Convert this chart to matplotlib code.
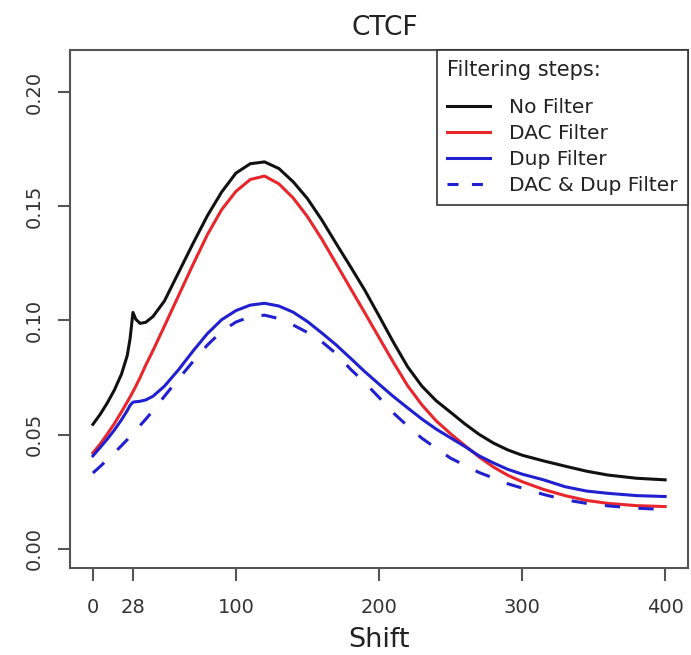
import numpy as np
import matplotlib
matplotlib.use('Agg')
import matplotlib.pyplot as plt
from matplotlib.lines import Line2D

# shift values where the curves were read
shift = [0, 5, 10, 15, 20, 24, 26, 28, 30, 33, 37, 42, 50, 60, 70, 80, 90, 100,
         110, 120, 130, 140, 150, 160, 170, 180, 190, 200, 210, 220, 230, 240,
         250, 260, 270, 280, 290, 300, 315, 330, 345, 360, 380, 400]

no_filter = [0.0545, 0.0588, 0.0638, 0.0695, 0.0765, 0.0846, 0.092, 0.1035,
             0.1005, 0.0987, 0.0992, 0.1017, 0.1085, 0.1211, 0.1337, 0.1458,
             0.1562, 0.1645, 0.1686, 0.1694, 0.1665, 0.1607, 0.1533, 0.144,
             0.1337, 0.1236, 0.1133, 0.102, 0.0905, 0.0797, 0.0712, 0.0648,
             0.0598, 0.0547, 0.0501, 0.0463, 0.0433, 0.041, 0.0385, 0.0362,
             0.034, 0.0323, 0.0309, 0.0302]

dac_filter = [0.042, 0.0458, 0.0502, 0.0548, 0.060, 0.0643, 0.0665, 0.0688,
              0.0712, 0.075, 0.0805, 0.0868, 0.0975, 0.111, 0.1245, 0.1375,
              0.1485, 0.1565, 0.1617, 0.1632, 0.1598, 0.1536, 0.1454, 0.1356,
              0.1249, 0.1141, 0.1034, 0.0925, 0.0817, 0.0714, 0.063, 0.056,
              0.0504, 0.0452, 0.0402, 0.0358, 0.0322, 0.0294, 0.026, 0.0233,
              0.0212, 0.0199, 0.0189, 0.0185]

dup_filter = [0.0407, 0.0443, 0.048, 0.052, 0.0565, 0.0605, 0.0628, 0.0642,
              0.0644, 0.0646, 0.0652, 0.0668, 0.0712, 0.0785, 0.0866, 0.0942,
              0.1003, 0.1043, 0.1067, 0.1075, 0.1063, 0.1036, 0.0995, 0.0945,
              0.0893, 0.0835, 0.0776, 0.0721, 0.0667, 0.0617, 0.0568, 0.0524,
              0.0486, 0.0448, 0.0407, 0.0376, 0.0348, 0.0327, 0.0302, 0.0272,
              0.0253, 0.0243, 0.0233, 0.0229]

dac_dup_filter = [0.0332, 0.036, 0.039, 0.042, 0.0452, 0.0478, 0.0492, 0.0505,
                  0.0519, 0.054, 0.0568, 0.0605, 0.0668, 0.0745, 0.082, 0.0892,
                  0.0952, 0.0993, 0.1016, 0.1023, 0.1008, 0.098, 0.0947, 0.0907,
                  0.0855, 0.0787, 0.0728, 0.0663, 0.0595, 0.0538, 0.0484, 0.044,
                  0.0397, 0.0366, 0.0334, 0.031, 0.0285, 0.0266, 0.0238, 0.0215,
                  0.0199, 0.0188, 0.0178, 0.0172]

labels = ['No Filter', 'DAC Filter', 'Dup Filter', 'DAC & Dup Filter']
xticks = [0, 28, 100, 200, 300, 400]
yticks = [0.00, 0.05, 0.10, 0.15, 0.20]

black = '#111111'
red = '#e8262b'
blue = '#2020d0'
lw = 2.2

fig = plt.figure(figsize=(6.91, 6.55), dpi=100)
ax = fig.add_axes([0.1013, 0.1328, 0.8944, 0.7909])

ax.plot(shift, no_filter, color=black, lw=lw, solid_joinstyle='round')
ax.plot(shift, dac_filter, color=red, lw=lw, solid_joinstyle='round')
ax.plot(shift, dup_filter, color=blue, lw=lw, solid_joinstyle='round')
ax.plot(shift, dac_dup_filter, color=blue, lw=lw, dashes=(5, 6),
        dash_capstyle='butt')

ax.set_xlim(-16, 416)
ax.set_ylim(-0.0084, 0.2184)

ax.set_xticks(xticks)
ax.set_xticklabels([str(t) for t in xticks])
ax.set_yticks(yticks)
ax.set_yticklabels(['%.2f' % t for t in yticks], rotation=90, va='center')

for s in ax.spines.values():
    s.set_color('#555555')
    s.set_linewidth(1.5)
ax.tick_params(length=9, width=1.5, color='#555555', labelsize=14,
               labelcolor='#333333', pad=10)
ax.tick_params(axis='x', pad=12.5)

ax.set_title('CTCF', fontsize=19, color='#222222', pad=11, x=0.51)
ax.set_xlabel('Shift', fontsize=19.5, color='#222222', labelpad=7)

handles = [Line2D([], [], color=black, lw=lw),
           Line2D([], [], color=red, lw=lw),
           Line2D([], [], color=blue, lw=lw),
           Line2D([], [], color=blue, lw=lw, dashes=(3.6, 4.4), dash_capstyle='butt')]
leg = ax.legend(handles, labels, title='Filtering steps:', loc='upper right',
                bbox_to_anchor=(1, 1), borderaxespad=0, fancybox=False,
                edgecolor='#333333', framealpha=1, fontsize=14.5,
                title_fontsize=15, handlelength=2.15, handletextpad=0.95,
                labelspacing=0.35, borderpad=0.5, alignment='left')
# a bit more room under the legend title, as in the original
leg._legend_box.sep = 13
leg.get_frame().set_linewidth(1.2)
for t in leg.get_texts():
    t.set_color('#222222')
leg.get_title().set_color('#222222')

fig.savefig('out.png', dpi=100)
